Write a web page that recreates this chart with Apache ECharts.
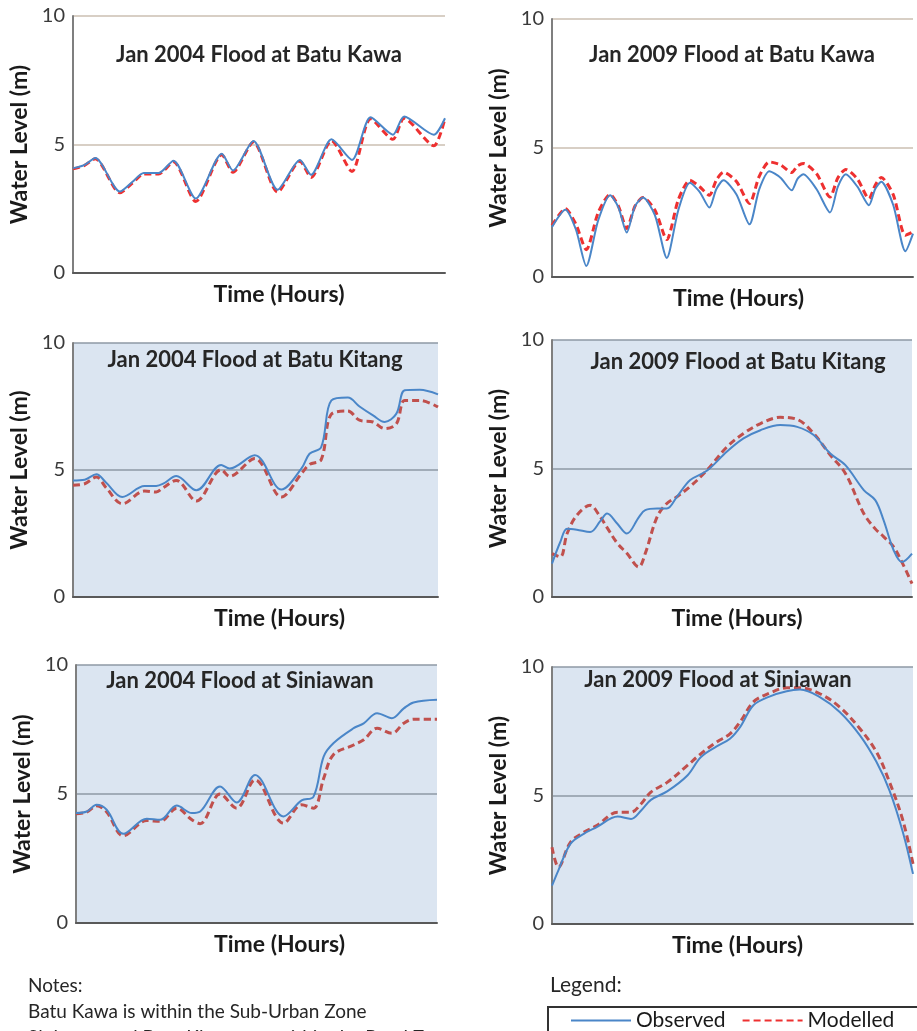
<!DOCTYPE html>
<html>
<head>
<meta charset="utf-8">
<script src="https://cdn.jsdelivr.net/npm/echarts@6/dist/echarts.min.js"></script>
<style>
  html, body { margin: 0; padding: 0; background: #ffffff; }
  #chart { width: 917px; height: 1031px; }
</style>
</head>
<body>
<div id="chart"></div>
<script>
// Time axis is unlabelled in the source, so positions are % of the event period
// Jan 2004 Batu Kawa
const kawa04Time = [0, 3, 6, 12.6, 16, 19, 23, 27, 33, 40, 43, 48.5, 55, 61, 64, 69.5, 75, 80, 86, 89, 97, 100];
const kawa04Observed = [4.08, 4.2, 4.47, 3.17, 3.55, 3.89, 3.89, 4.37, 2.9, 4.64, 3.99, 5.14, 3.24, 4.4, 3.82, 5.2, 4.4, 6.06, 5.38, 6.09, 5.38, 6.02];
const kawa04Modelled = [4.05, 4.18, 4.45, 3.12, 3.5, 3.85, 3.85, 4.33, 2.78, 4.6, 3.92, 5.1, 3.15, 4.35, 3.72, 5.15, 3.95, 6.0, 5.2, 6.02, 4.95, 6.02];

// Jan 2009 Batu Kawa
const kawa09Time = [0, 3.7, 6.6, 9.5, 12.8, 16.1, 18.4, 20.7, 23, 25.2, 28.5, 31.8, 35, 38.2, 40.9, 43.6, 45.5, 47.5, 51.1, 54.7, 57.4, 60.2, 63.3, 66.4, 68, 69.6, 73.3, 77, 79.2, 81.4, 84.6, 87.8, 89.5, 91.2, 94.5, 97.9, 100];
const kawa09Observed = [1.94, 2.61, 1.85, 0.43, 2.2, 3.17, 2.7, 1.72, 2.75, 3.08, 2.4, 0.74, 2.6, 3.65, 3.3, 2.69, 3.4, 3.75, 3.2, 2.04, 3.4, 4.1, 3.85, 3.36, 3.8, 3.98, 3.4, 2.5, 3.5, 3.98, 3.5, 2.78, 3.4, 3.69, 2.8, 1.0, 1.68];
const kawa09Modelled = [2.0, 2.65, 2.05, 1.06, 2.5, 3.2, 2.75, 1.88, 2.75, 3.08, 2.6, 1.45, 3.0, 3.75, 3.5, 3.17, 3.75, 4.06, 3.7, 2.85, 3.9, 4.46, 4.35, 4.05, 4.3, 4.4, 4.0, 3.1, 3.85, 4.17, 3.8, 3.04, 3.55, 3.86, 3.2, 1.62, 1.75];

// Jan 2004 Batu Kitang
const kitang04Time = [0, 3.2, 6.4, 9.1, 13.5, 19.6, 22.8, 24.7, 28.3, 33.8, 40.6, 42.9, 49.8, 57.1, 62.6, 64.8, 68, 70.8, 75.3, 78.5, 82.2, 85.4, 88.6, 90.9, 95, 100];
const kitang04Observed = [4.59, 4.62, 4.83, 4.5, 3.94, 4.37, 4.37, 4.46, 4.76, 4.2, 5.2, 5.06, 5.58, 4.23, 5.06, 5.64, 5.9, 7.74, 7.85, 7.5, 7.15, 6.89, 7.22, 8.14, 8.16, 7.98];
const kitang04Modelled = [4.4, 4.46, 4.72, 4.3, 3.67, 4.17, 4.13, 4.3, 4.59, 3.78, 5.01, 4.75, 5.45, 3.94, 4.86, 5.22, 5.41, 7.2, 7.32, 6.96, 6.89, 6.63, 6.82, 7.74, 7.74, 7.48];

// Jan 2009 Batu Kitang
const kitang09Time = [0, 2.3, 4.2, 6.9, 10.6, 13.4, 15.3, 18.1, 20.8, 24.1, 25.9, 29.2, 31.9, 34.7, 38.4, 43.1, 48.6, 53.2, 57.9, 63.4, 68.1, 72.7, 77.3, 81.5, 86.6, 89.8, 92.1, 94.9, 97.2, 100];
const kitang09Observed = [1.3, 2.14, 2.66, 2.62, 2.53, 2.95, 3.25, 2.86, 2.47, 3.1, 3.38, 3.44, 3.44, 3.9, 4.55, 4.92, 5.66, 6.17, 6.49, 6.69, 6.62, 6.3, 5.58, 5.13, 4.16, 3.77, 2.99, 1.82, 1.36, 1.69];
const kitang09Modelled = [1.69, 1.56, 2.47, 3.18, 3.57, 3.12, 2.7, 2.1, 1.7, 1.17, 1.69, 3.12, 3.64, 3.9, 4.3, 4.94, 5.84, 6.36, 6.75, 6.99, 6.91, 6.36, 5.52, 4.81, 3.25, 2.65, 2.35, 1.95, 1.36, 0.52];

// Jan 2004 Siniawan
const sini04Time = [0, 3, 5.7, 8.5, 13.1, 19.6, 23.3, 27.9, 32.1, 34.4, 39.9, 44.5, 49.6, 57.5, 62.5, 65.8, 68.6, 71.3, 76.9, 79.7, 83.4, 87.5, 90.8, 93.5, 100];
const sini04Observed = [4.26, 4.32, 4.58, 4.39, 3.46, 4.04, 4.0, 4.55, 4.26, 4.32, 5.29, 4.67, 5.74, 4.13, 4.75, 4.9, 6.45, 6.97, 7.55, 7.74, 8.13, 7.94, 8.32, 8.55, 8.65];
const sini04Modelled = [4.23, 4.3, 4.54, 4.3, 3.38, 3.97, 3.94, 4.45, 4.0, 3.85, 5.0, 4.45, 5.55, 3.87, 4.58, 4.45, 5.6, 6.52, 6.9, 7.1, 7.55, 7.35, 7.74, 7.9, 7.9];

// Jan 2009 Siniawan
const sini09Time = [0, 1.8, 5.1, 8.8, 12.4, 18.2, 21.9, 24.7, 27.4, 32, 37.5, 41.2, 45.6, 49.3, 52.1, 55.8, 60.4, 65, 68.7, 74.2, 79.7, 85.3, 89.9, 93.5, 97.2, 100];
const sini09Observed = [1.49, 2.1, 3.12, 3.51, 3.77, 4.18, 4.09, 4.42, 4.83, 5.17, 5.78, 6.49, 6.91, 7.21, 7.66, 8.51, 8.86, 9.06, 9.12, 8.83, 8.25, 7.34, 6.3, 5.19, 3.57, 1.95];
const sini09Modelled = [2.99, 2.21, 3.18, 3.57, 3.83, 4.35, 4.35, 4.68, 5.13, 5.52, 6.17, 6.62, 7.08, 7.4, 7.86, 8.64, 8.99, 9.19, 9.19, 8.96, 8.44, 7.6, 6.69, 5.52, 4.03, 2.34];

const yTicks = [0, 5, 10];
const seriesNames = ['Observed', 'Modelled'];
const FONT = 'Lato, "Open Sans", sans-serif';

// layout + styling per panel (kept apart from the data above)
const panels = [
  { title: 'Jan 2004 Flood at Batu Kawa', time: kawa04Time, obs: kawa04Observed, mod: kawa04Modelled,
    grid: { left: 73, top: 16, width: 372, height: 257 }, titlePos: [259, 55], shaded: false, nameShift: 40 },
  { title: 'Jan 2009 Flood at Batu Kawa', time: kawa09Time, obs: kawa09Observed, mod: kawa09Modelled,
    grid: { left: 552, top: 19, width: 361, height: 258 }, titlePos: [732, 55], shaded: false, nameShift: 12 },
  { title: 'Jan 2004 Flood at Batu Kitang', time: kitang04Time, obs: kitang04Observed, mod: kitang04Modelled,
    grid: { left: 73, top: 343, width: 365, height: 254 }, titlePos: [255, 360], shaded: true, nameShift: 48 },
  { title: 'Jan 2009 Flood at Batu Kitang', time: kitang09Time, obs: kitang09Observed, mod: kitang09Modelled,
    grid: { left: 552, top: 340, width: 360, height: 257 }, titlePos: [738, 362], shaded: true, nameShift: 10 },
  { title: 'Jan 2004 Flood at Siniawan', time: sini04Time, obs: sini04Observed, mod: sini04Modelled,
    grid: { left: 76, top: 665, width: 361, height: 258 }, titlePos: [240, 681], shaded: true, nameShift: 46 },
  { title: 'Jan 2009 Flood at Siniawan', time: sini09Time, obs: sini09Observed, mod: sini09Modelled,
    grid: { left: 552, top: 667, width: 361, height: 257 }, titlePos: [718, 680], shaded: true, nameShift: 10 }
];

const grids = [], xAxes = [], yAxes = [], series = [], texts = [];

panels.forEach((p, i) => {
  grids.push(Object.assign({
    show: p.shaded,
    backgroundColor: p.shaded ? '#dbe5f1' : 'transparent',
    borderWidth: 0
  }, p.grid));

  xAxes.push({
    gridIndex: i, type: 'value', min: 0, max: 100,
    axisLabel: { show: false }, axisTick: { show: false }, splitLine: { show: false },
    axisLine: { show: true, lineStyle: { color: '#595959', width: 2 } },
    name: 'Time (Hours)', nameLocation: 'middle', nameGap: 10,
    nameTextStyle: { fontFamily: FONT, fontSize: 23, fontWeight: 'bold', color: '#1a1a1a',
                     padding: [0, 0, 0, p.nameShift] }
  });

  yAxes.push({
    gridIndex: i, type: 'value', min: yTicks[0], max: yTicks[yTicks.length - 1], interval: yTicks[1] - yTicks[0],
    axisTick: { show: false },
    axisLine: { show: true, lineStyle: { color: '#7f7f7f', width: 2 } },
    axisLabel: { fontFamily: FONT, fontSize: 20, color: '#3a3a3a', margin: 8 },
    splitLine: { show: true, lineStyle: { color: p.shaded ? '#8e99a4' : '#cbbfb2', width: 1.5 } },
    name: 'Water Level (m)', nameLocation: 'middle', nameGap: 42, nameRotate: 90,
    nameTextStyle: { fontFamily: FONT, fontSize: 23, fontWeight: 'bold', color: '#1a1a1a' }
  });

  // tidal panels (top row) have sharper troughs
  const smooth = p.shaded ? 0.35 : 0.25;
  series.push({
    name: seriesNames[0], type: 'line', xAxisIndex: i, yAxisIndex: i,
    data: p.time.map((t, k) => [t, p.obs[k]]),
    smooth: smooth, symbol: 'none', z: 3,
    lineStyle: { color: '#4a86c8', width: 2 }, itemStyle: { color: '#4a86c8' }
  });
  const red = p.shaded ? '#c0504d' : '#ee3030';
  series.push({
    name: seriesNames[1], type: 'line', xAxisIndex: i, yAxisIndex: i,
    data: p.time.map((t, k) => [t, p.mod[k]]),
    smooth: smooth, symbol: 'none', z: 2,
    lineStyle: { color: red, width: 3, type: [7, 4] }, itemStyle: { color: red }
  });

  texts.push({
    type: 'text', x: p.titlePos[0], y: p.titlePos[1], z: 10,
    style: { text: p.title, fontFamily: FONT, fontSize: 22, fontWeight: 'bold', fill: '#262626',
             align: 'center', verticalAlign: 'middle' }
  });
});

// notes block bottom-left
const notes = ['Notes:', 'Batu Kawa is within the Sub-Urban Zone', 'Siniawan and Batu Kitang are within the Rural Zone'];
notes.forEach((line, k) => {
  texts.push({
    type: 'text', x: 28, y: 986 + k * 26,
    style: { text: line, fontFamily: FONT, fontSize: 19, fill: '#262626', verticalAlign: 'middle' }
  });
});
texts.push({
  type: 'text', x: 550, y: 985,
  style: { text: 'Legend:', fontFamily: FONT, fontSize: 21, fill: '#262626', verticalAlign: 'middle' }
});

const chart = echarts.init(document.getElementById('chart'), null, { renderer: 'canvas' });
chart.setOption({
  animation: false,
  backgroundColor: '#ffffff',
  grid: grids,
  xAxis: xAxes,
  yAxis: yAxes,
  series: series,
  legend: {
    data: seriesNames,
    left: 548, top: 1007, width: 600,
    orient: 'horizontal',
    itemWidth: 60, itemHeight: 12, itemGap: 16,
    padding: [3, 40, 30, 22],
    borderColor: '#333333', borderWidth: 2,
    itemStyle: { color: 'transparent', borderColor: 'transparent', borderWidth: 0, opacity: 0 },
    textStyle: { fontFamily: FONT, fontSize: 21, color: '#1a1a1a' }
  },
  graphic: texts
});
window.addEventListener('resize', () => chart.resize());
</script>
</body>
</html>
